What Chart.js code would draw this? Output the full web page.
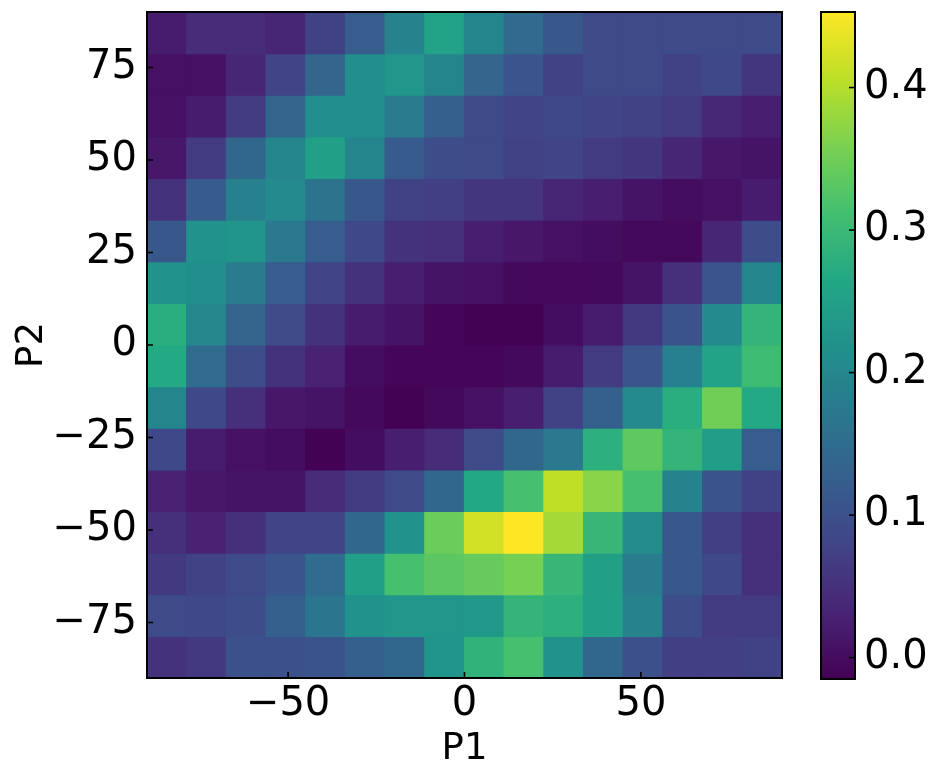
<!DOCTYPE html>
<html>
<head>
<meta charset="utf-8">
<script src="https://cdn.jsdelivr.net/npm/chart.js@4.4.0/dist/chart.umd.min.js"></script>
<style>
  html, body { margin: 0; padding: 0; background: #fff; }
  #wrap { position: relative; width: 936px; height: 781px; }
  canvas { position: absolute; top: 0; }
  #heat { left: 0; }
  #cbar { left: 800px; }
</style>
</head>
<body>
<div id="wrap">
  <canvas id="heat" width="800" height="781"></canvas>
  <canvas id="cbar" width="136" height="781"></canvas>
</div>
<script>
// bin centres (degrees), 16 x 16 histogram
const p1Centers = [-84.375, -73.125, -61.875, -50.625, -39.375, -28.125, -16.875, -5.625,
                   5.625, 16.875, 28.125, 39.375, 50.625, 61.875, 73.125, 84.375];
// rows listed top (P2 = 84) to bottom (P2 = -84)
const p2Centers = [84.375, 73.125, 61.875, 50.625, 39.375, 28.125, 16.875, 5.625,
                   -5.625, -16.875, -28.125, -39.375, -50.625, -61.875, -73.125, -84.375];
const binWidth = 11.25;

const values = [
  [0.020, 0.043, 0.043, 0.034, 0.076, 0.122, 0.192, 0.253, 0.197, 0.146, 0.113, 0.090, 0.090, 0.090, 0.090, 0.090],
  [0.006, 0.006, 0.034, 0.080, 0.136, 0.216, 0.230, 0.197, 0.136, 0.108, 0.076, 0.090, 0.090, 0.076, 0.085, 0.057],
  [0.006, 0.020, 0.066, 0.136, 0.216, 0.216, 0.178, 0.127, 0.090, 0.080, 0.085, 0.080, 0.076, 0.066, 0.038, 0.024],
  [0.015, 0.066, 0.141, 0.197, 0.249, 0.197, 0.118, 0.094, 0.090, 0.076, 0.080, 0.066, 0.057, 0.034, 0.015, 0.010],
  [0.052, 0.118, 0.188, 0.206, 0.164, 0.113, 0.076, 0.071, 0.057, 0.057, 0.034, 0.024, 0.010, 0.001, 0.006, 0.020],
  [0.113, 0.221, 0.225, 0.174, 0.122, 0.085, 0.052, 0.048, 0.024, 0.015, 0.006, 0.001, -0.004, -0.004, 0.034, 0.094],
  [0.221, 0.216, 0.178, 0.122, 0.080, 0.052, 0.024, 0.010, 0.006, -0.004, -0.006, -0.004, 0.010, 0.048, 0.108, 0.197],
  [0.277, 0.202, 0.136, 0.090, 0.052, 0.020, 0.010, -0.008, -0.013, -0.013, 0.001, 0.020, 0.062, 0.104, 0.206, 0.291],
  [0.267, 0.150, 0.094, 0.052, 0.029, 0.001, -0.008, -0.008, -0.008, -0.004, 0.020, 0.066, 0.108, 0.188, 0.253, 0.305],
  [0.197, 0.085, 0.048, 0.015, 0.010, -0.004, -0.013, -0.004, 0.006, 0.024, 0.076, 0.127, 0.206, 0.277, 0.351, 0.267],
  [0.085, 0.020, 0.006, 0.001, -0.013, 0.001, 0.024, 0.043, 0.090, 0.141, 0.174, 0.281, 0.337, 0.291, 0.244, 0.122],
  [0.029, 0.015, 0.010, 0.010, 0.043, 0.066, 0.090, 0.141, 0.263, 0.314, 0.407, 0.370, 0.314, 0.192, 0.104, 0.076],
  [0.048, 0.029, 0.048, 0.080, 0.080, 0.141, 0.221, 0.347, 0.421, 0.453, 0.389, 0.295, 0.211, 0.113, 0.071, 0.048],
  [0.062, 0.076, 0.090, 0.108, 0.150, 0.249, 0.314, 0.333, 0.342, 0.356, 0.295, 0.249, 0.178, 0.113, 0.085, 0.048],
  [0.090, 0.085, 0.094, 0.127, 0.169, 0.221, 0.230, 0.230, 0.235, 0.291, 0.281, 0.249, 0.192, 0.094, 0.066, 0.066],
  [0.052, 0.062, 0.099, 0.099, 0.104, 0.127, 0.141, 0.225, 0.286, 0.314, 0.221, 0.141, 0.099, 0.071, 0.071, 0.076],
];

const vmin = -0.015;
const vmax = 0.453;

const p1Ticks = [-50, 0, 50];
const p2Ticks = [-75, -50, -25, 0, 25, 50, 75];
const cbarTicks = [0.0, 0.1, 0.2, 0.3, 0.4];

// viridis, 11 stops
const viridisStops = ['#440154', '#482475', '#414487', '#355f8d', '#2a788e', '#21918c',
                      '#22a884', '#44bf70', '#7ad151', '#bddf26', '#fde725'];

function hexRgb(h) {
  return [parseInt(h.slice(1, 3), 16), parseInt(h.slice(3, 5), 16), parseInt(h.slice(5, 7), 16)];
}

function viridis(t) {
  t = Math.max(0, Math.min(1, t));
  const n = viridisStops.length - 1;
  const i = Math.min(n - 1, Math.floor(t * n));
  const f = t * n - i;
  const a = hexRgb(viridisStops[i]), b = hexRgb(viridisStops[i + 1]);
  const c = a.map((v, k) => Math.round(v + (b[k] - v) * f));
  return 'rgb(' + c.join(',') + ')';
}

const FONT = 'DejaVu Sans';
const tickFont = { family: FONT, size: 40 };
const titleFont = { family: FONT, size: 37 };
const minus = v => (v < 0 ? '\u2212' + Math.abs(v) : String(v));

// frame and inward tick marks
const framePlugin = {
  id: 'frame',
  afterDraw(chart, args, opts) {
    const { ctx, chartArea: a } = chart;
    ctx.save();
    ctx.strokeStyle = '#000';
    ctx.lineWidth = 1.6;
    (opts.ticks || []).forEach(([id, side]) => {
      const s = chart.scales[id];
      s.ticks.forEach(t => {
        const p = s.getPixelForValue(t.value);
        ctx.beginPath();
        if (side === 'bottom') { ctx.moveTo(p, a.bottom); ctx.lineTo(p, a.bottom - 6); }
        if (side === 'left') { ctx.moveTo(a.left, p); ctx.lineTo(a.left + 6, p); }
        if (side === 'right') { ctx.moveTo(a.right, p); ctx.lineTo(a.right - 6, p); }
        ctx.stroke();
      });
    });
    ctx.lineWidth = 2;
    ctx.strokeRect(a.left, a.top, a.right - a.left, a.bottom - a.top);
    ctx.restore();
  }
};

const datasets = p2Centers.map((yc, r) => ({
  data: p1Centers.map(xc => ({ x: xc, y: [yc - binWidth / 2, yc + binWidth / 2] })),
  backgroundColor: values[r].map(v => viridis((v - vmin) / (vmax - vmin))),
  borderWidth: 0,
  grouped: false,
  barPercentage: 1,
  categoryPercentage: 1,
  inflateAmount: 0.6,
}));

new Chart(document.getElementById('heat'), {
  type: 'bar',
  data: { datasets: datasets },
  options: {
    responsive: false,
    animation: false,
    devicePixelRatio: 1,
    layout: { padding: { top: 12, right: 18, left: 0, bottom: 0 } },
    plugins: {
      legend: { display: false },
      tooltip: { enabled: false },
      frame: { ticks: [['x', 'bottom'], ['y', 'left']] },
    },
    scales: {
      x: {
        type: 'linear',
        min: -90,
        max: 90,
        offset: false,
        grid: { display: false, drawTicks: false, offset: false },
        border: { display: false },
        afterBuildTicks: s => { s.ticks = p1Ticks.map(v => ({ value: v })); },
        afterFit: s => { s.height = 103; s.paddingLeft = 0; s.paddingRight = 0; },
        ticks: { padding: 3, color: '#000', font: tickFont, maxRotation: 0, callback: minus },
        title: { display: true, text: 'P1', color: '#000', font: titleFont, padding: { top: 0, bottom: 9 } },
      },
      y: {
        type: 'linear',
        min: -90,
        max: 90,
        grid: { display: false, drawTicks: false },
        border: { display: false },
        afterBuildTicks: s => { s.ticks = p2Ticks.map(v => ({ value: v })); },
        afterFit: s => { s.width = 147; s.paddingTop = 0; s.paddingBottom = 0; },
        ticks: { padding: 10, color: '#000', font: tickFont, callback: minus },
        title: { display: true, text: 'P2', color: '#000', font: titleFont, padding: { top: 10, bottom: 0 } },
      },
    },
  },
  plugins: [framePlugin],
});

// colour bar
const gradientPlugin = {
  id: 'gradient',
  beforeDatasetsDraw(chart) {
    const { ctx, chartArea: a } = chart;
    const ys = chart.scales.y;
    const g = ctx.createLinearGradient(0, ys.getPixelForValue(vmin), 0, ys.getPixelForValue(vmax));
    viridisStops.forEach((c, i) => g.addColorStop(i / (viridisStops.length - 1), c));
    ctx.save();
    ctx.fillStyle = g;
    ctx.fillRect(a.left, a.top, a.right - a.left, a.bottom - a.top);
    ctx.restore();
  }
};

new Chart(document.getElementById('cbar'), {
  type: 'bar',
  data: { datasets: [] },
  options: {
    responsive: false,
    animation: false,
    devicePixelRatio: 1,
    layout: { padding: { top: 12, right: 0, left: 21, bottom: 102 } },
    plugins: {
      legend: { display: false },
      tooltip: { enabled: false },
      frame: { ticks: [['y', 'right']] },
    },
    scales: {
      x: { type: 'linear', min: 0, max: 1, display: false },
      y: {
        type: 'linear',
        position: 'right',
        min: vmin,
        max: vmax,
        grid: { display: false, drawTicks: false },
        border: { display: false },
        afterBuildTicks: s => { s.ticks = cbarTicks.map(v => ({ value: v })); },
        afterFit: s => { s.width = 81; s.paddingTop = 0; s.paddingBottom = 0; },
        ticks: { padding: 9, color: '#000', font: tickFont, callback: v => v.toFixed(1) },
      },
    },
  },
  plugins: [gradientPlugin, framePlugin],
});
</script>
</body>
</html>
